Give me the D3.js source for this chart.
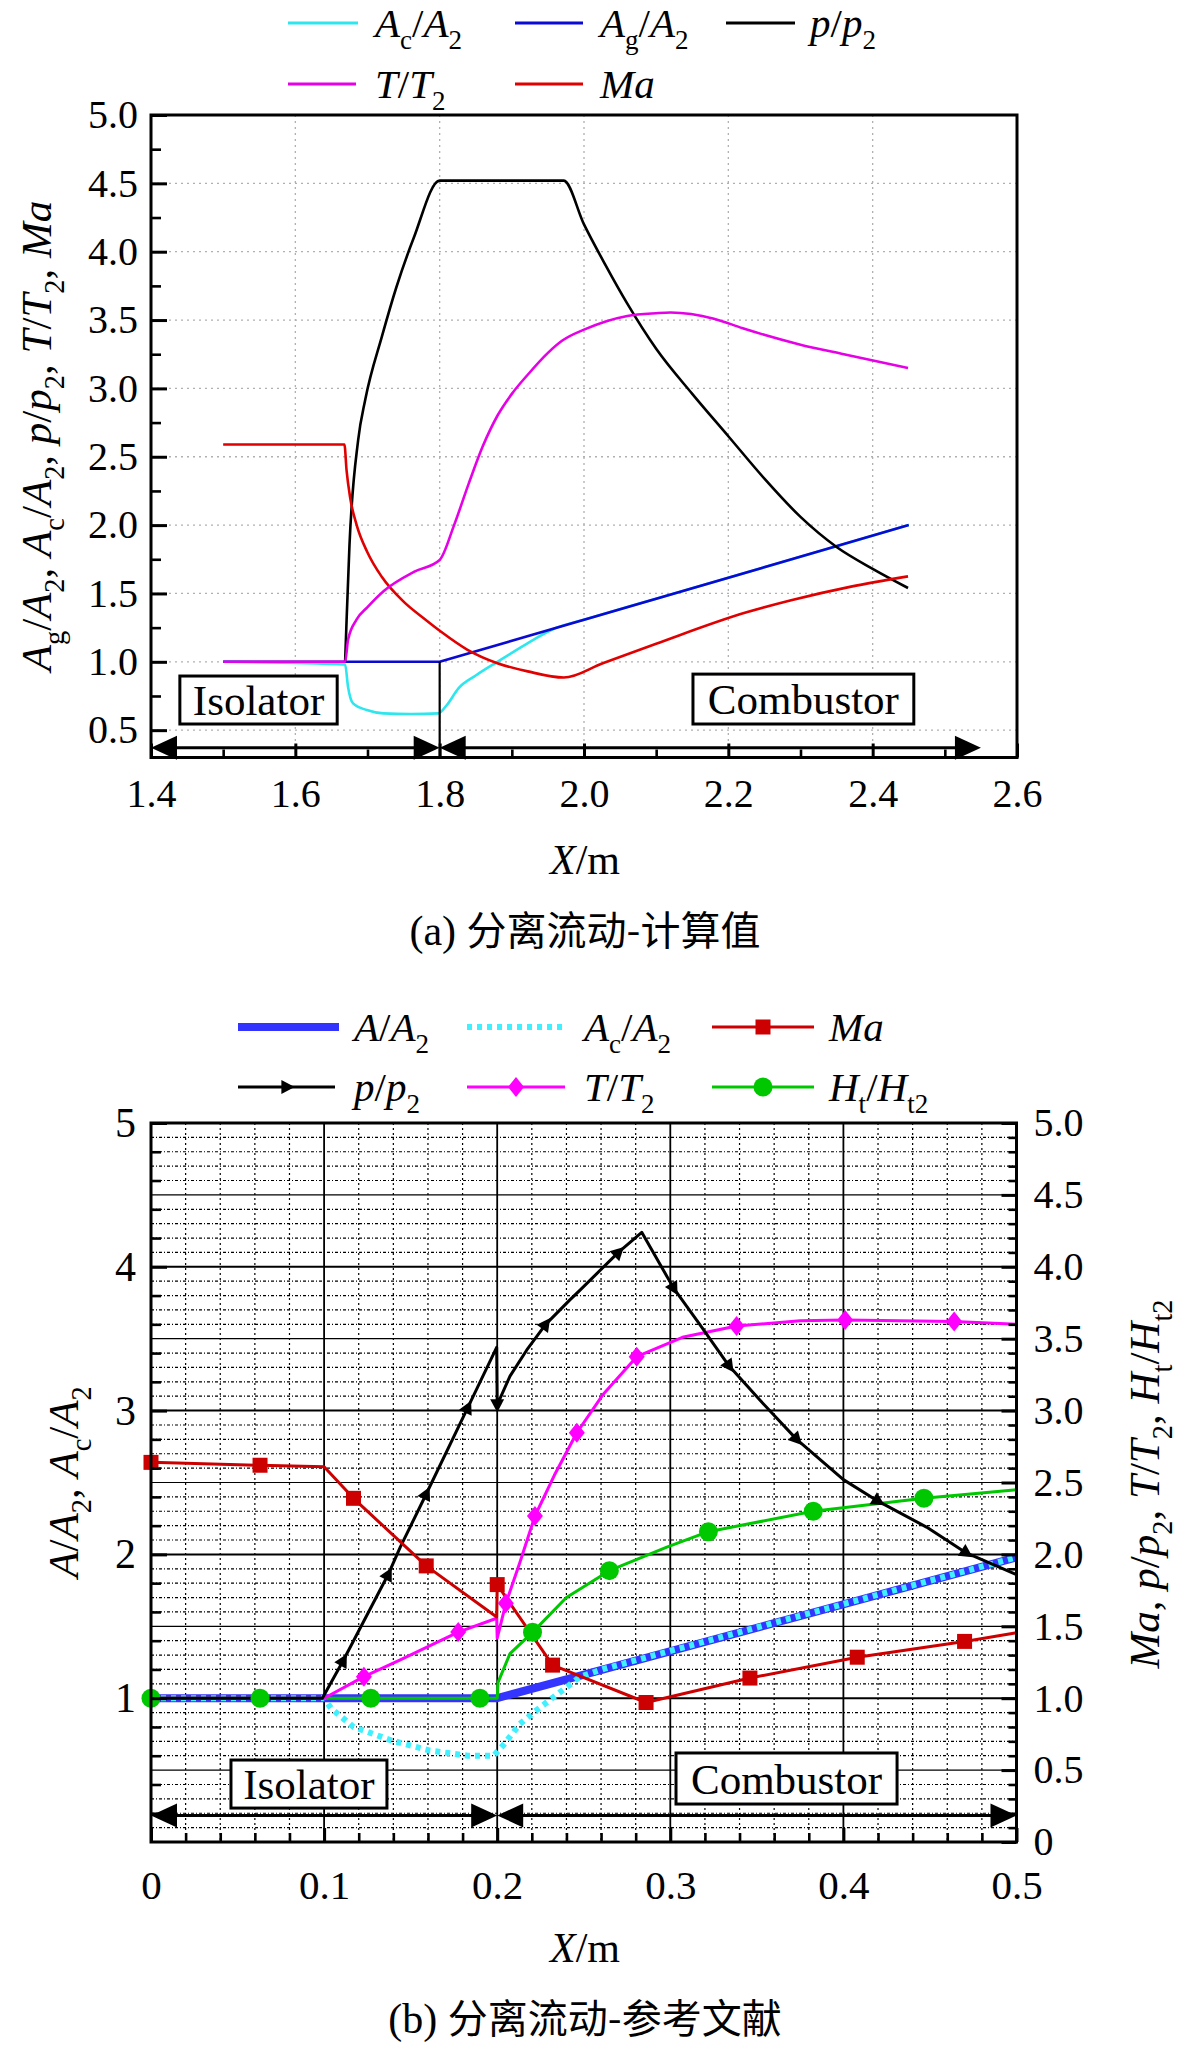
<!DOCTYPE html>
<html><head><meta charset="utf-8">
<script src="https://cdn.jsdelivr.net/npm/d3@7"></script>
<style>
body{margin:0;background:#fff}
svg{display:block}
svg text{font-family:"Liberation Serif","Times New Roman","DejaVu Serif",serif;white-space:pre;fill:#000}
svg text tspan.cjk{font-family:"Noto Sans CJK SC","Noto Sans CJK JP",sans-serif}
</style>
</head><body>
<script>
// ---------------- Chart (a) data ----------------
const aXTicks = [1.4, 1.6, 1.8, 2.0, 2.2, 2.4, 2.6];
const aYTicks = [0.5, 1.0, 1.5, 2.0, 2.5, 3.0, 3.5, 4.0, 4.5, 5.0];

const aAcX = [1.5, 1.669, 1.673, 1.680, 1.699, 1.722, 1.76, 1.798, 1.81, 1.826, 1.85, 1.88, 1.92, 1.96, 2.0, 2.1, 2.2, 2.3, 2.45];
const aAcY = [1.0, 0.98, 0.818, 0.696, 0.647, 0.623, 0.618, 0.623, 0.684, 0.806, 0.90, 1.0, 1.13, 1.245, 1.308, 1.462, 1.615, 1.769, 2.0];

const aAgX = [1.5, 1.8, 2.45];
const aAgY = [1.0, 1.0, 2.0];

const aPX = [1.669, 1.671, 1.675, 1.687, 1.697, 1.72, 1.74, 1.764, 1.8, 1.972, 2.0, 2.03, 2.06, 2.1, 2.15, 2.2, 2.25, 2.3, 2.35, 2.4, 2.449];
const aPY = [1.0, 1.3, 1.85, 2.62, 2.92, 3.38, 3.74, 4.1, 4.52, 4.52, 4.2, 3.9, 3.62, 3.29, 2.96, 2.65, 2.34, 2.06, 1.84, 1.68, 1.54];

const aTX = [1.5, 1.669, 1.673, 1.685, 1.70, 1.723, 1.765, 1.8, 1.82, 1.84, 1.86, 1.88, 1.9, 1.922, 1.95, 1.97, 2.0, 2.03, 2.06, 2.1, 2.12, 2.18, 2.22, 2.3, 2.36, 2.449];
const aTY = [1.0, 1.0, 1.16, 1.31, 1.40, 1.52, 1.66, 1.745, 2.0, 2.3, 2.58, 2.8, 2.96, 3.1, 3.26, 3.35, 3.43, 3.49, 3.53, 3.55, 3.555, 3.51, 3.44, 3.32, 3.25, 3.15];

const aMaX = [1.5, 1.668, 1.671, 1.676, 1.685, 1.70, 1.72, 1.75, 1.78, 1.802, 1.838, 1.88, 1.922, 1.972, 2.026, 2.099, 2.224, 2.287, 2.37, 2.449];
const aMaY = [2.59, 2.59, 2.40, 2.20, 2.0, 1.80, 1.62, 1.44, 1.31, 1.22, 1.09, 0.99, 0.93, 0.885, 0.99, 1.13, 1.36, 1.45, 1.55, 1.625];

// ---------------- Chart (b) data ----------------
const bXTicks = [0, 0.1, 0.2, 0.3, 0.4, 0.5];
const bXTickLabels = ["0", "0.1", "0.2", "0.3", "0.4", "0.5"];
const bYLeftTicks = [1, 2, 3, 4, 5];
const bYRightTicks = [0, 0.5, 1.0, 1.5, 2.0, 2.5, 3.0, 3.5, 4.0, 4.5, 5.0];

const bAX = [0, 0.2, 0.5];
const bAY = [1.0, 1.0, 1.98];

const bAcX = [0, 0.1, 0.104, 0.117, 0.139, 0.161, 0.183, 0.198, 0.204, 0.213, 0.222, 0.235, 0.248, 0.262, 0.5];
const bAcY = [1.0, 1.0, 0.93, 0.80, 0.706, 0.636, 0.60, 0.60, 0.68, 0.82, 0.91, 1.03, 1.15, 1.205, 1.98];

const bMaX = [0, 0.063, 0.1, 0.117, 0.159, 0.1997, 0.2, 0.232, 0.286, 0.346, 0.408, 0.47, 0.5];
const bMaY = [2.64, 2.62, 2.61, 2.39, 1.92, 1.565, 1.79, 1.23, 0.97, 1.14, 1.285, 1.395, 1.455];
const bMaMarkX = [0, 0.063, 0.117, 0.159, 0.2, 0.232, 0.286, 0.346, 0.408, 0.47];
const bMaMarkY = [2.64, 2.62, 2.39, 1.92, 1.79, 1.23, 0.97, 1.14, 1.285, 1.395];

const bPX = [0, 0.099, 0.111, 0.137, 0.144, 0.159, 0.183, 0.1997, 0.2, 0.2074, 0.217, 0.228, 0.242, 0.248, 0.27, 0.2835, 0.302, 0.317, 0.334, 0.352, 0.373, 0.4, 0.42, 0.448, 0.471, 0.5];
const bPY = [1.0, 1.0, 1.26, 1.86, 2.05, 2.42, 3.02, 3.44, 3.04, 3.24, 3.42, 3.60, 3.77, 3.84, 4.10, 4.24, 3.85, 3.60, 3.31, 3.07, 2.80, 2.52, 2.37, 2.19, 2.01, 1.86];
const bPMarkX = [0.111, 0.137, 0.159, 0.183, 0.2, 0.228, 0.27, 0.302, 0.334, 0.373, 0.42, 0.471];
const bPMarkY = [1.26, 1.86, 2.42, 3.02, 3.04, 3.60, 4.10, 3.85, 3.31, 2.80, 2.37, 2.01];

const bTX = [0, 0.1, 0.123, 0.144, 0.1775, 0.1997, 0.2, 0.205, 0.213, 0.2218, 0.233, 0.246, 0.261, 0.2806, 0.307, 0.3383, 0.375, 0.401, 0.464, 0.5];
const bTY = [1.0, 1.0, 1.15, 1.266, 1.46, 1.556, 1.417, 1.66, 1.94, 2.267, 2.55, 2.846, 3.11, 3.375, 3.51, 3.588, 3.625, 3.63, 3.62, 3.60];
const bTMarkX = [0.123, 0.1775, 0.205, 0.2218, 0.246, 0.2806, 0.3383, 0.401, 0.464];
const bTMarkY = [1.15, 1.46, 1.66, 2.267, 2.846, 3.375, 3.588, 3.63, 3.62];

const bHX = [0, 0.063, 0.127, 0.19, 0.2, 0.2005, 0.2074, 0.2204, 0.24, 0.2648, 0.298, 0.322, 0.3826, 0.4465, 0.5];
const bHY = [1.0, 1.0, 1.0, 1.0, 1.0, 1.11, 1.31, 1.458, 1.70, 1.887, 2.05, 2.158, 2.30, 2.39, 2.45];
const bHMarkX = [0, 0.063, 0.127, 0.19, 0.2204, 0.2648, 0.322, 0.3826, 0.4465];
const bHMarkY = [1.0, 1.0, 1.0, 1.0, 1.458, 1.887, 2.158, 2.30, 2.39];

// ---------------- helpers ----------------
const SERIF = '"Liberation Serif", "Times New Roman", "DejaVu Serif", serif';
const svg = d3.select("body").append("svg").attr("width", 1181).attr("height", 2046)
  .attr("font-family", SERIF);
const zip = (xs, ys) => xs.map((x, i) => [x, ys[i]]);

function rich(sel, parts, fs) {
  let shift = 0;
  parts.forEach(([t, k]) => {
    const ts = sel.append("tspan").text(t);
    const target = k === "s" ? fs * 0.3 : 0;
    if (target !== shift) ts.attr("dy", target - shift);
    shift = target;
    ts.attr("font-size", k === "s" ? fs * 0.66 : fs)
      .attr("font-style", k === "i" ? "italic" : "normal");
  });
}
const SEP = [[", ", "r"]];
const L = {
  AcA2: [["A", "i"], ["c", "s"], ["/", "r"], ["A", "i"], ["2", "s"]],
  AgA2: [["A", "i"], ["g", "s"], ["/", "r"], ["A", "i"], ["2", "s"]],
  AA2: [["A", "i"], ["/", "r"], ["A", "i"], ["2", "s"]],
  pp2: [["p", "i"], ["/", "r"], ["p", "i"], ["2", "s"]],
  TT2: [["T", "i"], ["/", "r"], ["T", "i"], ["2", "s"]],
  Ma: [["Ma", "i"]],
  HH: [["H", "i"], ["t", "s"], ["/", "r"], ["H", "i"], ["t2", "s"]],
  Xm: [["X", "i"], ["/m", "r"]]
};

function styleAxis(g, fs, w) {
  g.attr("font-family", SERIF);
  g.select(".domain").remove();
  g.selectAll(".tick line").attr("stroke", "#000").attr("stroke-width", w);
  g.selectAll(".tick text").attr("font-size", fs).attr("fill", "#000").attr("font-family", SERIF);
}

function arrowBar(g, x1, x2, y) {
  const hl = 26, hw = 12;
  g.append("line").attr("x1", x1 + 5).attr("x2", x2 - 5).attr("y1", y).attr("y2", y)
    .attr("stroke", "#000").attr("stroke-width", 3);
  g.append("path").attr("d", `M${x1},${y}L${x1 + hl},${y - hw}L${x1 + hl},${y + hw}Z`).attr("fill", "#000");
  g.append("path").attr("d", `M${x2},${y}L${x2 - hl},${y - hw}L${x2 - hl},${y + hw}Z`).attr("fill", "#000");
}
function labelBox(g, x1, x2, y1, y2, txt) {
  g.append("rect").attr("x", x1).attr("y", y1).attr("width", x2 - x1).attr("height", y2 - y1)
    .attr("fill", "#fff").attr("stroke", "#000").attr("stroke-width", 3);
  g.append("text").attr("x", (x1 + x2) / 2).attr("y", (y1 + y2) / 2 + 15)
    .attr("text-anchor", "middle").attr("font-size", 43).text(txt);
}
function legendItem(g, x1, x2, y, tx, color, width, parts, dash) {
  const l = g.append("line").attr("x1", x1).attr("x2", x2).attr("y1", y).attr("y2", y)
    .attr("stroke", color).attr("stroke-width", width);
  if (dash) l.attr("stroke-dasharray", dash);
  const t = g.append("text").attr("x", tx).attr("y", y + 14);
  rich(t, parts, 41);
}
function caption(g, x, y, head, body) {
  const t = g.append("text").attr("x", x).attr("y", y).attr("text-anchor", "middle").attr("font-size", 42);
  t.append("tspan").text(head);
  t.append("tspan").attr("class", "cjk").attr("font-size", 40).text(body);
}

// ================= Chart (a) =================
const xA = d3.scaleLinear().domain([1.4, 2.6]).range([151, 1017]);
const yA = d3.scaleLinear().domain([0.3, 5.0]).range([757.5, 115]);
const gA = svg.append("g");

gA.append("g").selectAll("line").data(aXTicks.slice(1, -1)).join("line")
  .attr("x1", d => xA(d)).attr("x2", d => xA(d)).attr("y1", yA(5.0)).attr("y2", yA(0.3))
  .attr("stroke", "#b0b0b0").attr("stroke-width", 1.3).attr("stroke-dasharray", "2,4");
gA.append("g").selectAll("line").data(aYTicks.slice(0, -1)).join("line")
  .attr("y1", d => yA(d)).attr("y2", d => yA(d)).attr("x1", xA(1.4)).attr("x2", xA(2.6))
  .attr("stroke", "#b0b0b0").attr("stroke-width", 1.3).attr("stroke-dasharray", "2,4");

const lineSmooth = d3.line().x(d => xA(d[0])).y(d => yA(d[1])).curve(d3.curveMonotoneX);
const lineStraight = d3.line().x(d => xA(d[0])).y(d => yA(d[1]));
const aSeries = [
  [aAcX, aAcY, "#2ee6ee", lineSmooth],
  [aAgX, aAgY, "#0a0ad2", lineStraight],
  [aPX, aPY, "#000", lineSmooth],
  [aMaX, aMaY, "#e00000", lineSmooth],
  [aTX, aTY, "#e600e6", lineSmooth]
];
aSeries.forEach(([xs, ys, c, gen]) => {
  gA.append("path").attr("d", gen(zip(xs, ys))).attr("fill", "none")
    .attr("stroke", c).attr("stroke-width", 2.6).attr("stroke-linejoin", "round");
});

gA.append("line").attr("x1", xA(1.8)).attr("x2", xA(1.8)).attr("y1", yA(1.0)).attr("y2", yA(0.3))
  .attr("stroke", "#000").attr("stroke-width", 2.2);
labelBox(gA, xA(1.440), xA(1.658), yA(0.896), yA(0.545), "Isolator");
labelBox(gA, xA(2.151), xA(2.457), yA(0.91), yA(0.545), "Combustor");
arrowBar(gA, xA(1.4), xA(1.8), yA(0.372));
arrowBar(gA, xA(1.8), xA(2.55), yA(0.372));

const aYMinor = d3.range(0.75, 5.0, 0.5);
const aXMinor = d3.range(1.5, 2.6, 0.2);
gA.append("g").attr("transform", `translate(${xA(1.4)},0)`)
  .call(d3.axisLeft(yA).tickValues(aYMinor).tickSize(-10).tickFormat(""))
  .call(g => styleAxis(g, 40, 2.6));
gA.append("g").attr("transform", `translate(${xA(1.4)},0)`)
  .call(d3.axisLeft(yA).tickValues(aYTicks).tickSize(-16).tickPadding(13).tickFormat(d3.format(".1f")))
  .call(g => styleAxis(g, 40, 3));
gA.append("g").attr("transform", `translate(0,${yA(0.3)})`)
  .call(d3.axisBottom(xA).tickValues(aXMinor).tickSize(-8).tickFormat(""))
  .call(g => styleAxis(g, 40, 2.6));
gA.append("g").attr("transform", `translate(0,${yA(0.3)})`)
  .call(d3.axisBottom(xA).tickValues(aXTicks).tickSize(-14).tickPadding(21).tickFormat(d3.format(".1f")))
  .call(g => styleAxis(g, 40, 3));
gA.append("rect").attr("x", xA(1.4)).attr("y", yA(5.0)).attr("width", xA(2.6) - xA(1.4))
  .attr("height", yA(0.3) - yA(5.0)).attr("fill", "none").attr("stroke", "#000").attr("stroke-width", 3);

{
  const t = gA.append("text").attr("text-anchor", "middle")
    .attr("transform", `translate(51,436) rotate(-90)`);
  rich(t, [...L.AgA2, ...SEP, ...L.AcA2, ...SEP, ...L.pp2, ...SEP, ...L.TT2, ...SEP, ...L.Ma], 43);
  const tx = gA.append("text").attr("x", 585).attr("y", 874).attr("text-anchor", "middle");
  rich(tx, L.Xm, 42);
}
caption(gA, 585, 945, "(a) ", "分离流动-计算值");

const legA = gA.append("g");
legendItem(legA, 288, 358, 23, 375, "#2ee6ee", 3, L.AcA2);
legendItem(legA, 515, 583, 23, 600, "#0a0ad2", 3, L.AgA2);
legendItem(legA, 726, 795, 23, 810, "#000", 3, L.pp2);
legendItem(legA, 288, 356, 84, 375, "#e600e6", 3, L.TT2);
legendItem(legA, 515, 583, 84, 600, "#e00000", 3, L.Ma);

// ================= Chart (b) =================
const xB = d3.scaleLinear().domain([0, 0.5]).range([151, 1016.5]);
const yB = d3.scaleLinear().domain([0, 5]).range([1842, 1123]);
const gB = svg.append("g");
const eq = (a, b) => Math.abs(a - b) < 1e-6;

const bXMinor = d3.range(0.02, 0.5, 0.02).filter(v => !bXTicks.some(t => eq(t, v)));
const bYMinor = d3.range(0.1, 5.0, 0.1).filter(v => !bYRightTicks.some(t => eq(t, v)));
gB.append("g").selectAll("line").data(bXMinor).join("line")
  .attr("x1", d => xB(d)).attr("x2", d => xB(d)).attr("y1", yB(5)).attr("y2", yB(0))
  .attr("stroke", "#000").attr("stroke-width", 1.2).attr("stroke-dasharray", "2,3");
gB.append("g").selectAll("line").data(bYMinor).join("line")
  .attr("y1", d => yB(d)).attr("y2", d => yB(d)).attr("x1", xB(0)).attr("x2", xB(0.5))
  .attr("stroke", "#000").attr("stroke-width", 1.2).attr("stroke-dasharray", "3,2,1,2");
gB.append("g").selectAll("line").data(bXTicks.slice(1, -1)).join("line")
  .attr("x1", d => xB(d)).attr("x2", d => xB(d)).attr("y1", yB(5)).attr("y2", yB(0))
  .attr("stroke", "#000").attr("stroke-width", 1.8);
gB.append("g").selectAll("line").data(bYRightTicks.slice(1, -1)).join("line")
  .attr("y1", d => yB(d)).attr("y2", d => yB(d)).attr("x1", xB(0)).attr("x2", xB(0.5))
  .attr("stroke", "#000").attr("stroke-width", d => Number.isInteger(d) ? 2 : 1.2);

const lineB = d3.line().x(d => xB(d[0])).y(d => yB(d[1]));
function pathB(xs, ys, c, w, dash) {
  const p = gB.append("path").attr("d", lineB(zip(xs, ys))).attr("fill", "none")
    .attr("stroke", c).attr("stroke-width", w).attr("stroke-linejoin", "round");
  if (dash) p.attr("stroke-dasharray", dash).attr("stroke-linecap", "butt");
  return p;
}
pathB(bAX, bAY, "#3434ff", 8);
pathB(bAcX, bAcY, "#3ff0ff", 6, "5,5");
pathB(bHX, bHY, "#00c800", 3);
pathB(bTX, bTY, "#ff00ff", 3);
pathB(bPX, bPY, "#000", 3);
pathB(bMaX, bMaY, "#cc0000", 3);

function markerPath(type, s) {
  if (type === "sq") return `M${-s},${-s}h${2 * s}v${2 * s}h${-2 * s}Z`;
  if (type === "di") return `M0,${-s * 1.25}L${s},0L0,${s * 1.25}L${-s},0Z`;
  if (type === "tri") return `M${s * 1.1},0L${-s * 0.8},${-s}L${-s * 0.8},${s}Z`;
  return "";
}
gB.append("g").selectAll("circle").data(zip(bHMarkX, bHMarkY)).join("circle")
  .attr("cx", d => xB(d[0])).attr("cy", d => yB(d[1])).attr("r", 9.5).attr("fill", "#00c800");
gB.append("g").selectAll("path").data(zip(bTMarkX, bTMarkY)).join("path")
  .attr("d", markerPath("di", 8)).attr("transform", d => `translate(${xB(d[0])},${yB(d[1])})`)
  .attr("fill", "#ff00ff");
const pPix = zip(bPX, bPY).map(d => [xB(d[0]), yB(d[1])]);
function segAngle(px, py) {
  let best = Infinity, ang = 0;
  for (let i = 1; i < pPix.length; i++) {
    const [x1, y1] = pPix[i - 1], [x2, y2] = pPix[i];
    const dx = x2 - x1, dy = y2 - y1, L2 = dx * dx + dy * dy || 1;
    let t = ((px - x1) * dx + (py - y1) * dy) / L2; t = Math.max(0, Math.min(1, t));
    const ex = x1 + t * dx - px, ey = y1 + t * dy - py, dist = ex * ex + ey * ey;
    if (dist < best - 1e-6) { best = dist; ang = Math.atan2(dy, dx) * 180 / Math.PI; }
  }
  return ang;
}
gB.append("g").selectAll("path").data(zip(bPMarkX, bPMarkY)).join("path")
  .attr("d", markerPath("tri", 7))
  .attr("transform", d => { const x = xB(d[0]), y = yB(d[1]); return `translate(${x},${y}) rotate(${segAngle(x, y)})`; })
  .attr("fill", "#000");
gB.append("g").selectAll("path").data(zip(bMaMarkX, bMaMarkY)).join("path")
  .attr("d", markerPath("sq", 7.5)).attr("transform", d => `translate(${xB(d[0])},${yB(d[1])})`)
  .attr("fill", "#cc0000");

labelBox(gB, xB(0.0462), xB(0.1363), yB(0.570), yB(0.236), "Isolator");
labelBox(gB, xB(0.3033), xB(0.4310), yB(0.619), yB(0.264), "Combustor");
arrowBar(gB, xB(0), xB(0.2), yB(0.185));
arrowBar(gB, xB(0.2), xB(0.5), yB(0.185));

const bLMinor = d3.range(0.2, 5.0, 0.2).filter(v => !bYLeftTicks.some(t => eq(t, v)));
gB.append("g").attr("transform", `translate(${xB(0)},0)`)
  .call(d3.axisLeft(yB).tickValues(bLMinor).tickSize(-10).tickFormat(""))
  .call(g => styleAxis(g, 40, 2.6));
gB.append("g").attr("transform", `translate(${xB(0)},0)`)
  .call(d3.axisLeft(yB).tickValues(bYLeftTicks).tickSize(-16).tickPadding(15).tickFormat(d3.format("d")))
  .call(g => styleAxis(g, 42, 3));
gB.append("g").attr("transform", `translate(${xB(0.5)},0)`)
  .call(d3.axisRight(yB).tickValues(bYMinor).tickSize(-8).tickFormat(""))
  .call(g => styleAxis(g, 40, 2.6));
gB.append("g").attr("transform", `translate(${xB(0.5)},0)`)
  .call(d3.axisRight(yB).tickValues(bYRightTicks).tickSize(-15).tickPadding(17)
    .tickFormat(d => d === 0 ? "0" : d3.format(".1f")(d)))
  .call(g => styleAxis(g, 40, 3));
gB.append("g").attr("transform", `translate(0,${yB(0)})`)
  .call(d3.axisBottom(xB).tickValues(bXMinor).tickSize(-9).tickFormat(""))
  .call(g => styleAxis(g, 40, 2.6));
gB.append("g").attr("transform", `translate(0,${yB(0)})`)
  .call(d3.axisBottom(xB).tickValues(bXTicks).tickSize(-14).tickPadding(28).tickFormat((d, i) => bXTickLabels[i]))
  .call(g => styleAxis(g, 41, 3));
gB.append("rect").attr("x", xB(0)).attr("y", yB(5)).attr("width", xB(0.5) - xB(0))
  .attr("height", yB(0) - yB(5)).attr("fill", "none").attr("stroke", "#000").attr("stroke-width", 3);

{
  const t1 = gB.append("text").attr("text-anchor", "middle")
    .attr("transform", `translate(78,1482) rotate(-90)`);
  rich(t1, [...L.AA2, ...SEP, ...L.AcA2], 43);
  const t2 = gB.append("text").attr("text-anchor", "middle")
    .attr("transform", `translate(1159,1484) rotate(-90)`);
  rich(t2, [...L.Ma, ...SEP, ...L.pp2, ...SEP, ...L.TT2, ...SEP, ...L.HH], 43);
  const tx = gB.append("text").attr("x", 585).attr("y", 1962).attr("text-anchor", "middle");
  rich(tx, L.Xm, 42);
}
caption(gB, 585, 2033, "(b) ", "分离流动-参考文献");

const legB = gB.append("g");
legendItem(legB, 238, 339, 1027, 354, "#3434ff", 8, L.AA2);
legendItem(legB, 467, 565, 1027, 584, "#3ff0ff", 6, L.AcA2, "5,5");
legendItem(legB, 712, 814, 1027, 829, "#cc0000", 3, L.Ma);
legendItem(legB, 238, 335, 1087, 354, "#000", 3, L.pp2);
legendItem(legB, 467, 565, 1087, 584, "#ff00ff", 3, L.TT2);
legendItem(legB, 712, 814, 1087, 829, "#00c800", 3, L.HH);
legB.append("path").attr("d", markerPath("sq", 7.5)).attr("transform", "translate(763,1027)").attr("fill", "#cc0000");
legB.append("path").attr("d", markerPath("tri", 7)).attr("transform", "translate(287,1087)").attr("fill", "#000");
legB.append("path").attr("d", markerPath("di", 8)).attr("transform", "translate(516,1087)").attr("fill", "#ff00ff");
legB.append("circle").attr("cx", 763).attr("cy", 1087).attr("r", 9.5).attr("fill", "#00c800");
</script>
</body></html>
